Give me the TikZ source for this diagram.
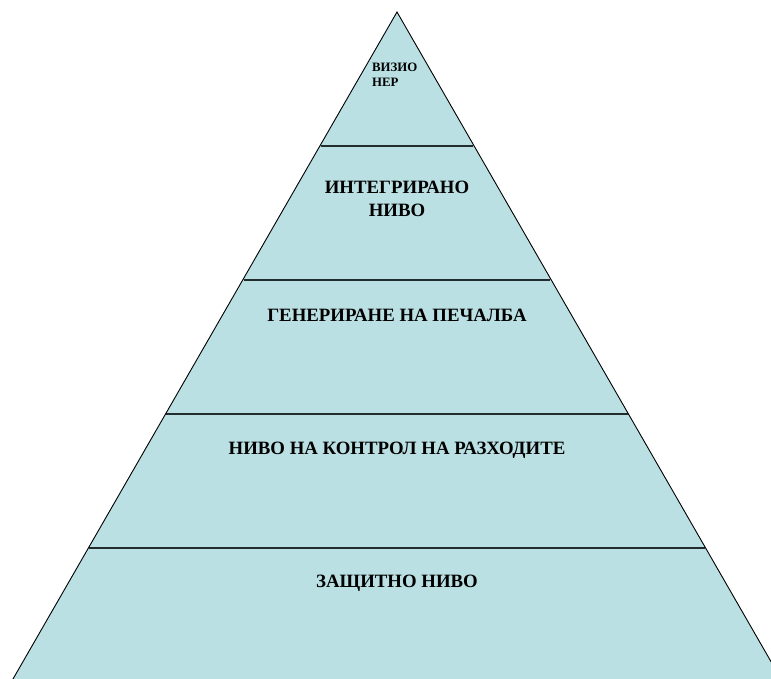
\documentclass[tikz,border=0pt]{standalone}
\usepackage{fontspec}
\setmainfont{Liberation Serif}
\definecolor{divcol}{RGB}{34,44,44}
\definecolor{pyrfill}{RGB}{186,224,227}
\begin{document}
\begin{tikzpicture}[x=1pt,y=-1pt,
  divider/.style={draw=divcol, line width=2pt},
  lbl/.style={font=\bfseries\fontsize{18.8}{22}\selectfont, inner sep=0pt, align=center},
  smalllbl/.style={font=\bfseries\fontsize{12.8}{15}\selectfont, inner sep=0pt, align=left}]
\useasboundingbox (0,0) rectangle (771,678);
\fill[white] (0,0) rectangle (771,678);
\begin{scope}
\clip (0,0) rectangle (771,678);
\coordinate (apex) at (397,12);
\coordinate (bl) at (12.4,680);
\coordinate (br) at (781.6,680);
\fill[pyrfill] (apex) -- (bl) -- (br) -- cycle;
\draw[divider] (320.7,146) -- (473.3,146);
\draw[divider] (243.6,280) -- (550.4,280);
\draw[divider] (166.4,414) -- (627.6,414);
\draw[divider] (89.2,548) -- (704.8,548);
\draw[black, line width=0.9pt] (bl) -- (apex) -- (br);
\end{scope}
\node[smalllbl, anchor=base west] (v1) at (372,71) {ВИЗИО};
\node[smalllbl, anchor=base west] (v2) at (372,86) {НЕР};
\node[lbl, anchor=base] (l1) at (397,193) {ИНТЕГРИРАНО};
\node[lbl, anchor=base] (l1b) at (397,216) {НИВО};
\node[lbl, anchor=base] (l2) at (397,321) {ГЕНЕРИРАНЕ НА ПЕЧАЛБА};
\node[lbl, anchor=base] (l3) at (397,454) {НИВО НА КОНТРОЛ НА РАЗХОДИТЕ};
\node[lbl, anchor=base] (l4) at (397,587) {ЗАЩИТНО НИВО};
\end{tikzpicture}
\end{document}
